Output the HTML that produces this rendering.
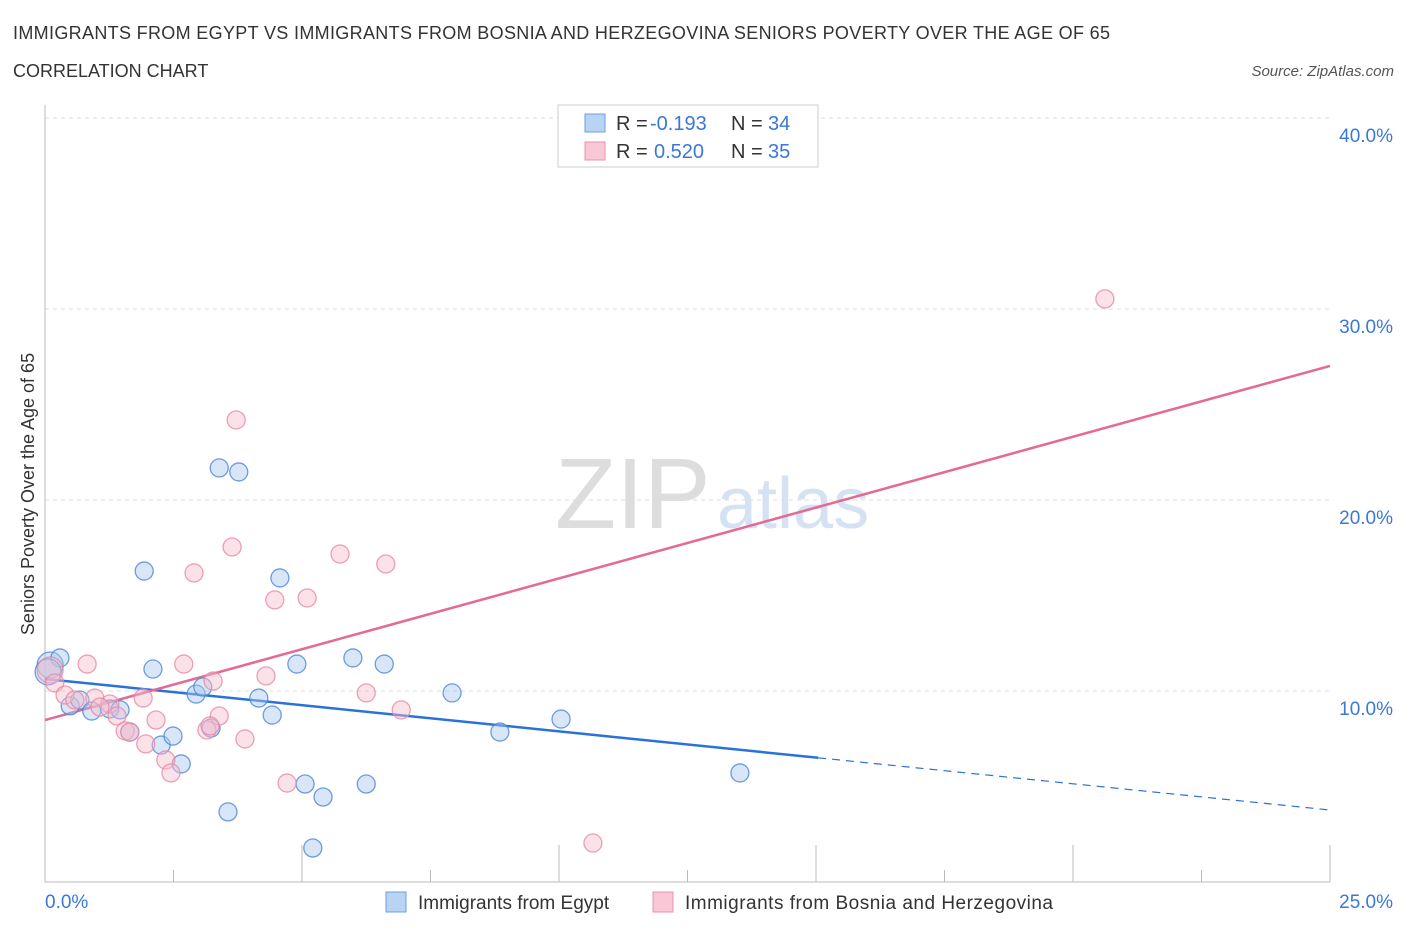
<!DOCTYPE html>
<html><head><meta charset="utf-8">
<style>
body{margin:0;background:#fff;font-family:"Liberation Sans",sans-serif;}
svg text{font-family:"Liberation Sans",sans-serif;}
</style></head>
<body>
<svg id="chart" width="1406" height="930" xmlns="http://www.w3.org/2000/svg">
<text x="13" y="39" font-size="18" fill="#333" textLength="1097" lengthAdjust="spacing">IMMIGRANTS FROM EGYPT VS IMMIGRANTS FROM BOSNIA AND HERZEGOVINA SENIORS POVERTY OVER THE AGE OF 65</text>
<text x="13" y="77" font-size="18" fill="#333">CORRELATION CHART</text>
<text x="1394" y="76" font-size="15" fill="#555" text-anchor="end" font-style="italic">Source: ZipAtlas.com</text>
<text x="555" y="528" font-size="100" fill="#ddd" font-family="Liberation Serif">ZIP</text>
<text x="717" y="528" font-size="72" fill="#d4e2f4">atlas</text>
<g id="grid"></g>
<g id="axes"></g>
<g id="trends"></g>
<g id="points"></g>
<text transform="translate(34,494) rotate(-90)" font-size="18" fill="#333" text-anchor="middle">Seniors Poverty Over the Age of 65</text>
<g>
<rect x="558" y="105" width="260" height="62" fill="#fff" stroke="#ccc"/>
<rect x="585" y="114" width="20" height="18" fill="#b9d3f5" stroke="#6a9fe0"/>
<text x="616" y="130" font-size="20" fill="#333">R =</text>
<text x="650" y="130" font-size="20" fill="#3b78d6">-0.193</text>
<text x="731" y="130" font-size="20" fill="#333">N =</text>
<text x="768" y="130" font-size="20" fill="#3b78d6">34</text>
<rect x="585" y="142" width="20" height="18" fill="#f8c8d6" stroke="#e890ab"/>
<text x="616" y="158" font-size="20" fill="#333">R =</text>
<text x="654" y="158" font-size="20" fill="#3b78d6">0.520</text>
<text x="731" y="158" font-size="20" fill="#333">N =</text>
<text x="768" y="158" font-size="20" fill="#3b78d6">35</text>
</g>
<g>
<rect x="386" y="892" width="20" height="20" fill="#b9d3f5" stroke="#6a9fe0"/>
<text x="418" y="909" font-size="19" fill="#333">Immigrants from Egypt</text>
<rect x="653" y="892" width="20" height="20" fill="#f8c8d6" stroke="#e890ab"/>
<text x="685" y="909" font-size="19" fill="#333" textLength="368" lengthAdjust="spacing">Immigrants from Bosnia and Herzegovina</text>
</g>
</svg>
<script>
const yTicks=[10,20,30,40];
const yTickLabels=["10.0%","20.0%","30.0%","40.0%"];
const xTickLabels=["0.0%","25.0%"];
const egyptX=[0.10,0.29,0.49,0.68,0.91,1.26,1.46,1.65,1.93,2.10,2.26,2.49,2.65,2.94,3.07,3.23,3.39,3.56,3.77,4.16,4.42,4.57,4.90,5.06,5.21,5.41,5.99,6.25,6.60,7.92,8.85,10.04,13.52,0.06];
const egyptY=[11.36,11.73,9.22,9.53,8.95,9.06,9.01,7.85,16.28,11.15,7.17,7.64,6.18,9.84,10.21,8.06,21.68,3.67,21.47,9.63,8.74,15.92,11.41,5.13,1.78,4.45,11.73,5.13,11.41,9.90,7.85,8.53,5.71,11.0];
const bosniaX=[0.10,0.19,0.39,0.82,0.58,0.97,1.26,1.40,1.56,1.65,1.91,1.96,2.16,2.35,2.45,2.70,2.90,3.15,3.27,3.39,3.64,3.72,3.89,4.30,4.47,4.71,5.10,5.74,6.25,6.63,6.93,10.66,20.62,3.21,1.07];
const bosniaY=[11.10,10.42,9.79,11.41,9.53,9.63,9.32,8.69,7.91,7.85,9.63,7.23,8.48,6.39,5.71,11.41,16.18,7.96,10.52,8.69,17.54,24.19,7.49,10.79,14.77,5.18,14.87,17.17,9.90,16.65,9.01,2.04,30.53,8.17,9.16];
const egyptTrend=[10.63,3.77];
const bosniaTrend=[8.48,27.02];
const NS="http://www.w3.org/2000/svg";
const X=v=>45+v/25*1285;
const Y=v=>882-v*19.1;
function mk(tag,attrs,parent){const e=document.createElementNS(NS,tag);for(const k in attrs)e.setAttribute(k,attrs[k]);parent.appendChild(e);return e;}
const grid=document.getElementById('grid'),axes=document.getElementById('axes');
yTicks.forEach((t,i)=>{
 const l=mk('line',{x1:45,x2:1330,y1:Y(t),y2:Y(t),stroke:'#ddd','stroke-dasharray':'4,4'},grid);
 
 
 const tx=mk('text',{x:1393,y:Y(t)+24,'font-size':19,fill:'#3b78d6','text-anchor':'end'},axes);
 tx.textContent=yTickLabels[i];
 
 
});
const ax=mk('line',{x1:45,x2:1330,y1:882,y2:882,stroke:'#bbb'},axes);


const ay=mk('line',{x1:45,x2:45,y1:105,y2:882,stroke:'#bbb'},axes);


for(let i=1;i<=10;i++){const xx=45+i*128.5;const t=mk('line',{x1:xx,x2:xx,y1:882,y2:i%2?870:845,stroke:'#bbb'},axes);
 
 }
[[0,45,'start'],[25,1393,'end']].forEach((d,i)=>{const t=mk('text',{x:d[1],y:908,'font-size':19,fill:'#3b78d6','text-anchor':d[2]},axes);t.textContent=xTickLabels[i];
 
 });
const pts=document.getElementById('points');
function drawPts(xs,ys,fill,stroke,name){xs.forEach((x,i)=>{const big=(x<0.15);const c=mk('circle',{cx:X(x),cy:Y(ys[i]),r:big?13:9,fill:fill,'fill-opacity':0.45,stroke:stroke,'stroke-opacity':0.8,'stroke-width':1.3},pts);
 
 });}
drawPts(egyptX,egyptY,'#a9c8f0','#4a86d8','egypt-point');
drawPts(bosniaX,bosniaY,'#f6bccd','#e68aa6','bosnia-point');
const tr=document.getElementById('trends');
const ey=x=>egyptTrend[0]+(egyptTrend[1]-egyptTrend[0])*x/25;
const e1=mk('line',{x1:X(0),y1:Y(ey(0)),x2:X(15.04),y2:Y(ey(15.04)),stroke:'#2a72d8','stroke-width':2.5},tr);


const e2=mk('line',{x1:X(15.04),y1:Y(ey(15.04)),x2:X(25),y2:Y(ey(25)),stroke:'#2a72d8','stroke-width':1.2,'stroke-dasharray':'8,6'},tr);


const b1=mk('line',{x1:X(0),y1:Y(bosniaTrend[0]),x2:X(25),y2:Y(bosniaTrend[1]),stroke:'#e46a93','stroke-width':2.5},tr);


</script>
</body></html>
